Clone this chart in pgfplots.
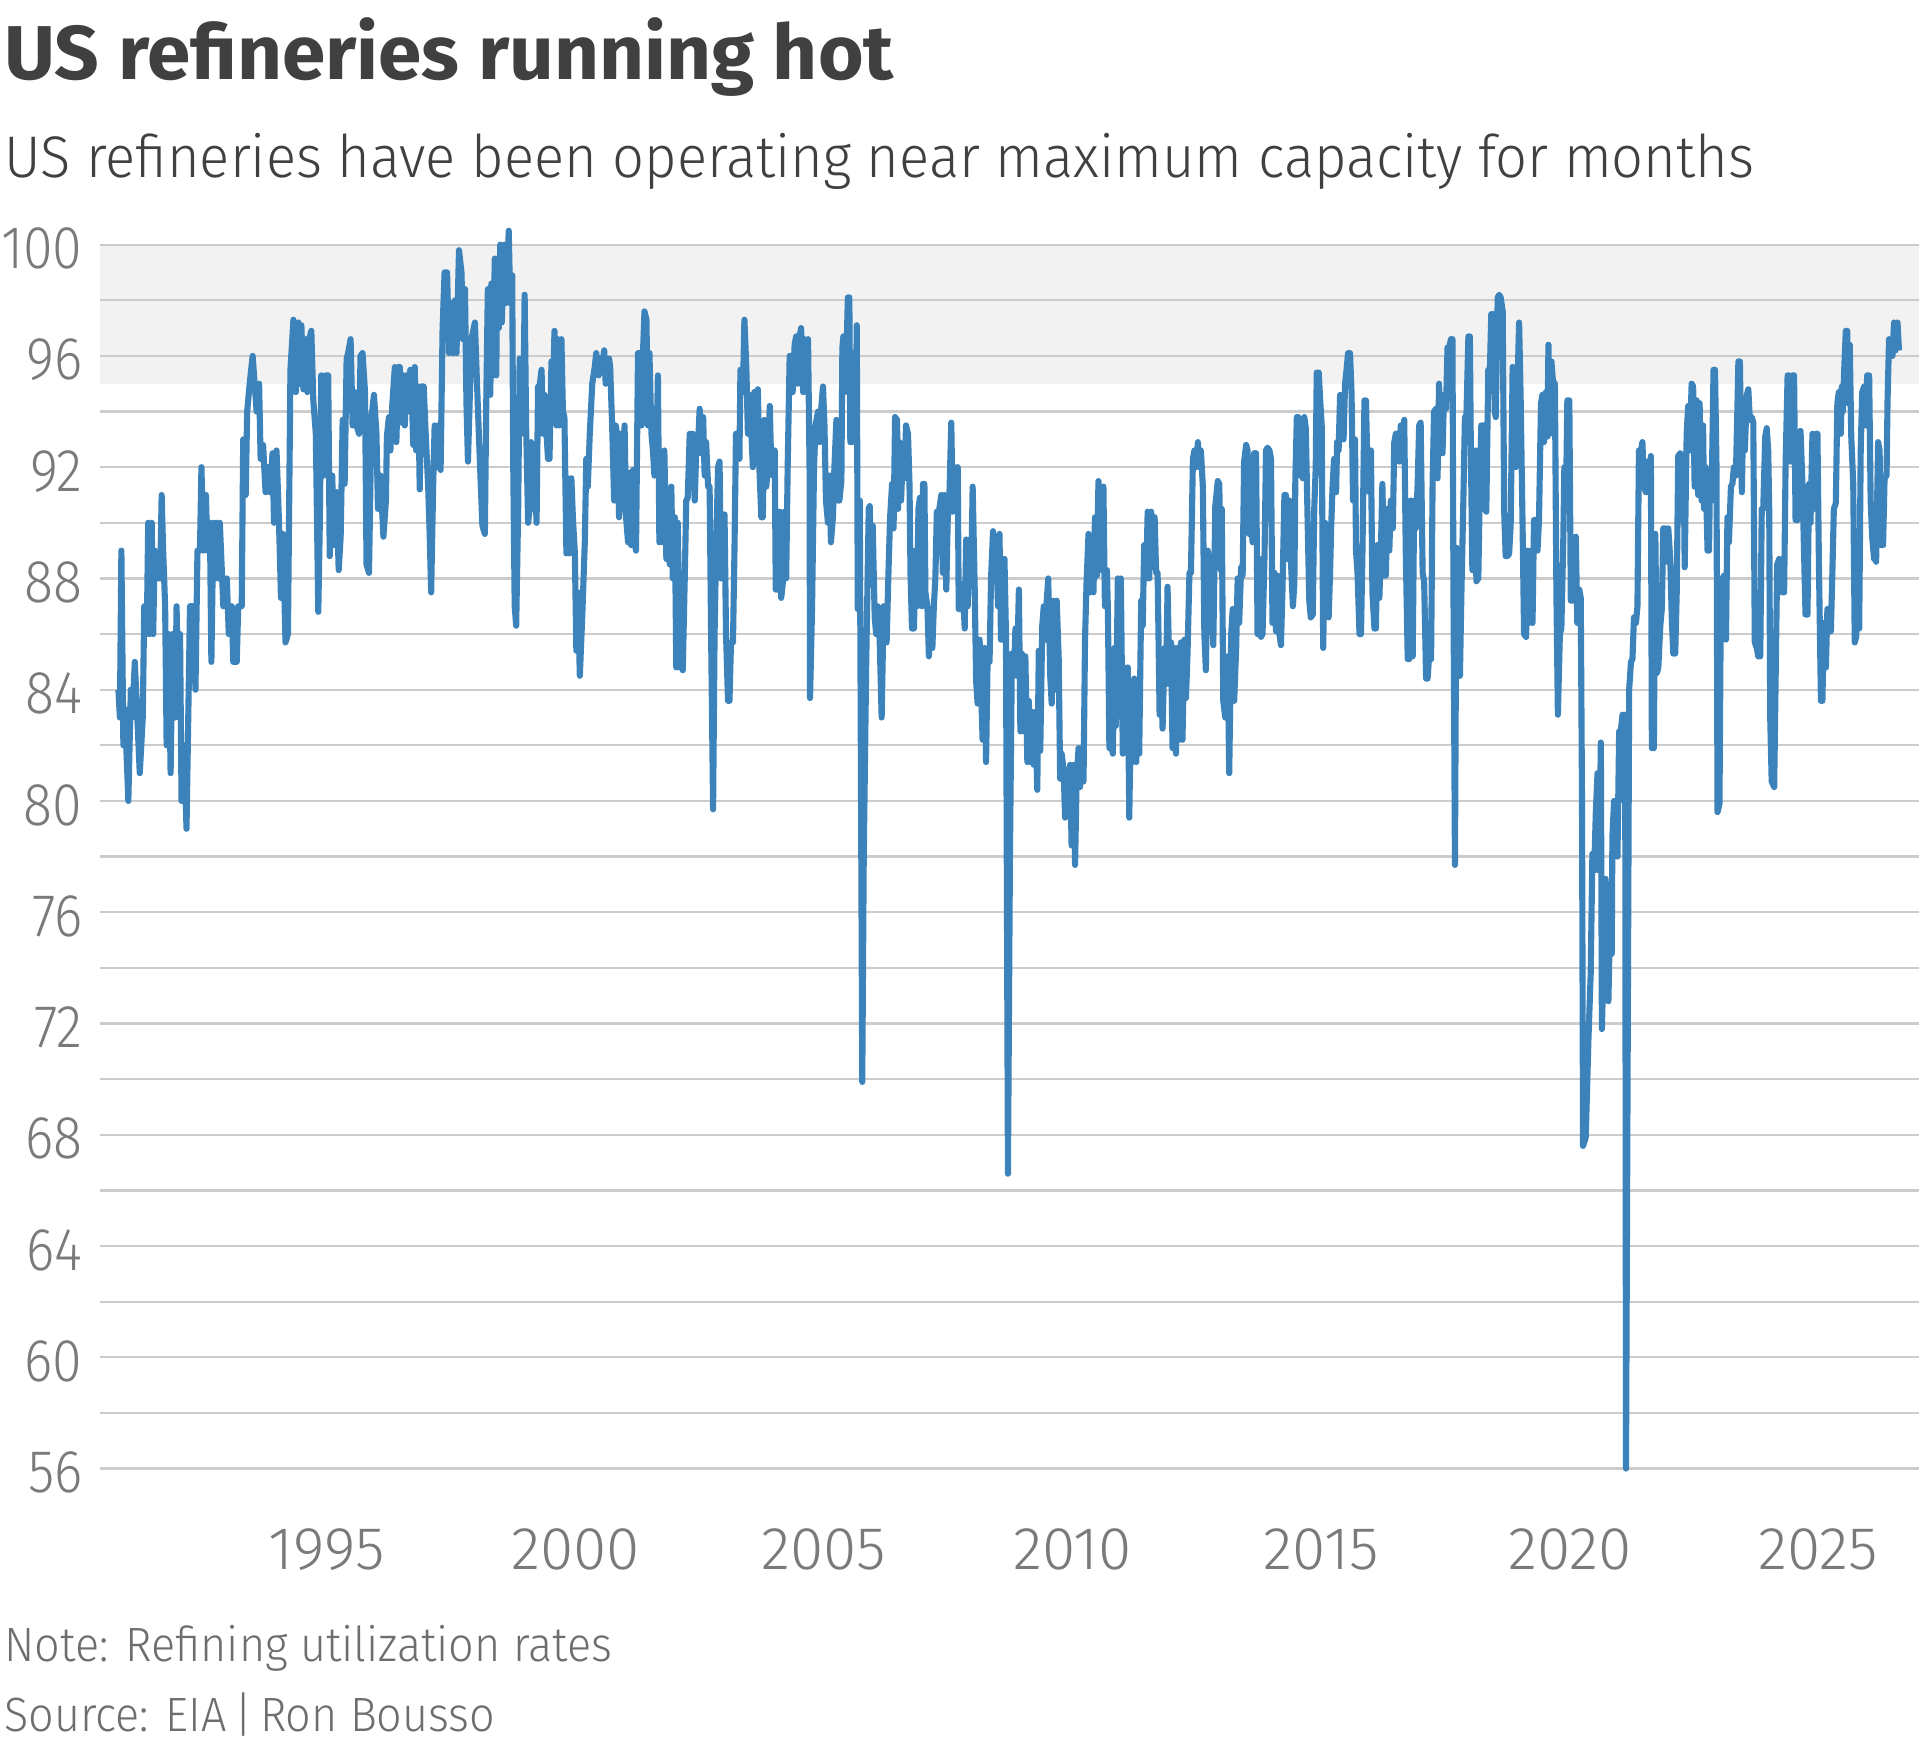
\documentclass[border=0pt]{standalone}
\usepackage{fontspec}
\usepackage{graphicx}
\usepackage{pgfplots}
\usepackage{pgfplotstable}
\pgfplotsset{compat=1.18}
\setmainfont{Fira Sans}[UprightFont={* Light}, BoldFont={* Bold}]
\newfontfamily\ytickfont{Fira Sans}[UprightFont={* Light}, FakeStretch=0.89]
\newfontfamily\xtickfont{Fira Sans}[UprightFont={* Light}, FakeStretch=1.0]
\newfontfamily\titlefont{Fira Sans}[UprightFont={* Bold}]
\definecolor{lineblue}{HTML}{3B83BA}
\definecolor{gridgray}{HTML}{CCCCCC}
\definecolor{bandgray}{HTML}{F2F2F2}
\definecolor{titlegray}{HTML}{404040}
\definecolor{tickgray}{HTML}{7A7A7A}
\definecolor{notegray}{HTML}{6E6E6E}

\pgfplotstableread{
year util
1990.81 84.0
1990.84 83.0
1990.87 89.0
1990.91 82.0
1990.94 83.3
1991.01 80.0
1991.06 84.0
1991.09 83.0
1991.14 85.0
1991.19 83.0
1991.24 81.0
1991.30 83.0
1991.33 87.0
1991.38 86.0
1991.41 90.0
1991.44 86.0
1991.48 90.0
1991.51 86.0
1991.54 89.0
1991.59 88.0
1991.65 88.0
1991.68 91.0
1991.71 89.0
1991.75 87.0
1991.78 82.0
1991.82 86.0
1991.86 81.0
1991.90 86.0
1991.95 83.0
1991.98 87.0
1992.02 83.0
1992.05 86.0
1992.08 80.0
1992.13 82.0
1992.18 79.0
1992.25 87.0
1992.31 87.0
1992.36 84.0
1992.40 89.0
1992.45 89.0
1992.48 92.0
1992.52 89.0
1992.57 91.0
1992.60 89.0
1992.65 90.0
1992.68 85.0
1992.72 90.0
1992.75 88.0
1992.78 90.0
1992.82 88.0
1992.85 90.0
1992.92 87.0
1992.99 88.0
1993.03 86.0
1993.09 87.0
1993.12 85.0
1993.19 85.0
1993.22 87.0
1993.29 87.0
1993.32 93.0
1993.37 91.0
1993.40 94.0
1993.45 95.0
1993.51 96.0
1993.55 95.0
1993.59 94.0
1993.64 95.0
1993.67 92.3
1993.72 92.8
1993.77 91.1
1993.82 92.0
1993.86 91.1
1993.91 92.5
1993.94 90.0
1993.99 92.6
1994.04 90.0
1994.08 87.3
1994.12 89.6
1994.17 85.7
1994.22 86.0
1994.27 95.5
1994.33 97.3
1994.38 94.7
1994.43 97.2
1994.46 95.0
1994.49 97.1
1994.53 94.8
1994.58 96.6
1994.61 94.7
1994.66 96.7
1994.69 96.9
1994.73 94.4
1994.78 93.2
1994.83 86.8
1994.86 89.9
1994.89 95.3
1994.94 91.7
1994.98 95.3
1995.03 95.3
1995.06 88.8
1995.11 91.7
1995.15 89.2
1995.20 91.1
1995.24 88.3
1995.28 89.5
1995.32 93.7
1995.36 91.4
1995.40 95.9
1995.43 96.1
1995.48 96.6
1995.52 93.5
1995.56 94.7
1995.60 93.5
1995.65 93.2
1995.68 96.0
1995.72 96.1
1995.77 94.7
1995.80 88.5
1995.85 88.2
1995.90 93.8
1995.95 94.6
1996.00 93.2
1996.03 90.5
1996.08 91.7
1996.14 89.5
1996.19 90.8
1996.21 93.1
1996.25 93.8
1996.28 92.6
1996.32 94.3
1996.37 95.6
1996.40 92.9
1996.44 95.6
1996.47 95.6
1996.50 93.6
1996.54 95.3
1996.57 93.5
1996.60 95.3
1996.66 94.0
1996.68 95.5
1996.72 94.0
1996.74 92.8
1996.77 95.6
1996.80 92.6
1996.84 94.9
1996.87 91.2
1996.90 94.9
1996.95 94.9
1996.99 93.2
1997.04 91.3
1997.07 89.6
1997.10 87.5
1997.14 91.3
1997.17 93.5
1997.21 92.0
1997.24 93.5
1997.29 91.9
1997.33 97.0
1997.37 99.0
1997.42 99.0
1997.46 96.1
1997.49 97.9
1997.54 96.1
1997.58 98.0
1997.61 96.1
1997.66 99.8
1997.71 99.0
1997.74 96.6
1997.78 98.4
1997.81 94.3
1997.84 92.2
1997.91 96.6
1997.98 97.2
1998.02 95.1
1998.08 92.2
1998.13 89.9
1998.18 89.6
1998.21 94.6
1998.24 98.4
1998.29 94.6
1998.31 98.6
1998.34 95.3
1998.38 99.5
1998.41 95.3
1998.43 99.5
1998.46 97.0
1998.49 100.0
1998.52 97.2
1998.57 100.0
1998.60 97.9
1998.63 98.9
1998.66 100.5
1998.69 97.9
1998.73 98.9
1998.75 92.2
1998.78 87.0
1998.81 86.3
1998.85 90.5
1998.88 95.9
1998.91 93.2
1998.95 93.5
1998.98 98.2
1999.01 93.5
1999.05 90.0
1999.08 90.5
1999.11 92.9
1999.15 90.5
1999.18 92.0
1999.22 90.0
1999.25 94.9
1999.28 94.9
1999.32 95.5
1999.35 93.2
1999.38 94.6
1999.42 93.2
1999.45 92.3
1999.48 92.3
1999.52 95.8
1999.55 94.7
1999.58 96.9
1999.62 93.5
1999.65 96.6
1999.68 93.5
1999.72 96.6
1999.75 94.0
1999.78 93.8
1999.82 88.9
1999.85 91.6
1999.88 88.9
1999.92 91.6
1999.95 90.2
1999.99 88.9
2000.02 85.4
2000.05 87.5
2000.09 84.5
2000.14 86.7
2000.19 89.3
2000.22 92.3
2000.25 91.3
2000.29 93.2
2000.34 95.0
2000.39 95.6
2000.42 96.1
2000.47 95.3
2000.50 95.9
2000.53 95.5
2000.58 96.2
2000.61 95.0
2000.64 95.9
2000.68 95.9
2000.70 95.6
2000.74 93.5
2000.78 90.8
2000.81 93.5
2000.84 93.2
2000.88 90.2
2000.92 93.2
2000.96 90.5
2000.99 93.5
2001.02 90.2
2001.06 89.3
2001.09 91.8
2001.12 89.2
2001.16 91.9
2001.19 89.3
2001.22 89.0
2001.26 96.1
2001.29 96.1
2001.33 93.5
2001.36 96.1
2001.39 97.6
2001.43 97.3
2001.46 93.5
2001.49 96.1
2001.53 93.2
2001.56 92.6
2001.59 91.7
2001.63 92.5
2001.66 95.3
2001.69 89.3
2001.73 91.4
2001.76 89.3
2001.79 92.6
2001.83 88.7
2001.86 90.5
2001.90 88.5
2001.93 91.3
2001.96 88.0
2002.00 90.2
2002.03 84.8
2002.06 90.0
2002.10 84.8
2002.13 87.6
2002.16 84.7
2002.20 88.0
2002.23 90.8
2002.26 90.9
2002.30 93.2
2002.33 92.6
2002.36 93.2
2002.40 90.8
2002.43 92.5
2002.46 92.5
2002.50 94.1
2002.53 92.5
2002.57 93.8
2002.60 91.7
2002.63 92.9
2002.67 91.3
2002.70 91.3
2002.73 86.0
2002.77 79.7
2002.80 86.0
2002.83 89.0
2002.87 92.0
2002.90 92.2
2002.93 88.0
2002.97 88.0
2003.00 90.3
2003.03 86.0
2003.07 83.6
2003.10 83.6
2003.13 85.7
2003.17 85.7
2003.20 89.0
2003.23 93.2
2003.27 93.2
2003.30 92.3
2003.32 95.5
2003.37 94.7
2003.40 97.3
2003.44 95.5
2003.47 93.2
2003.50 94.6
2003.54 93.2
2003.57 92.0
2003.60 94.7
2003.64 94.5
2003.67 94.8
2003.70 92.0
2003.74 90.2
2003.77 90.2
2003.80 93.7
2003.84 91.3
2003.87 92.0
2003.91 94.2
2003.94 92.0
2003.97 91.7
2004.01 92.6
2004.03 87.6
2004.07 87.6
2004.11 90.4
2004.14 87.3
2004.17 87.8
2004.21 90.4
2004.24 88.0
2004.27 92.0
2004.31 96.0
2004.34 96.0
2004.37 94.7
2004.41 96.4
2004.44 96.7
2004.47 95.0
2004.51 96.7
2004.54 97.0
2004.58 94.7
2004.61 96.6
2004.64 94.7
2004.68 96.6
2004.71 92.0
2004.72 83.7
2004.76 86.9
2004.80 92.0
2004.83 93.5
2004.88 94.0
2004.91 92.9
2004.94 94.0
2004.98 94.9
2005.01 93.5
2005.04 90.8
2005.08 90.0
2005.11 91.7
2005.14 89.3
2005.18 90.2
2005.21 92.0
2005.25 93.7
2005.28 90.8
2005.31 90.8
2005.35 91.5
2005.37 96.3
2005.39 96.7
2005.42 94.7
2005.45 95.8
2005.48 98.1
2005.51 98.1
2005.53 92.9
2005.57 92.9
2005.60 96.1
2005.63 92.9
2005.66 97.1
2005.68 86.9
2005.72 90.8
2005.77 69.9
2005.80 78.0
2005.85 85.0
2005.90 90.5
2005.92 90.6
2005.95 88.0
2005.98 89.9
2006.02 86.6
2006.05 86.0
2006.08 87.0
2006.12 85.8
2006.16 83.0
2006.20 87.0
2006.23 85.7
2006.26 85.7
2006.30 88.4
2006.33 90.2
2006.37 91.4
2006.40 89.8
2006.43 93.8
2006.47 93.7
2006.49 90.5
2006.52 92.9
2006.55 90.8
2006.59 92.6
2006.62 91.6
2006.65 93.5
2006.69 93.2
2006.72 91.4
2006.74 88.2
2006.77 86.2
2006.81 86.2
2006.84 89.0
2006.87 87.0
2006.90 90.5
2006.93 90.9
2006.97 87.0
2006.99 91.4
2007.02 91.4
2007.04 87.5
2007.08 87.0
2007.11 85.2
2007.14 86.9
2007.18 85.5
2007.21 87.0
2007.24 88.0
2007.27 90.4
2007.30 88.9
2007.32 90.5
2007.36 91.0
2007.39 88.2
2007.42 91.0
2007.46 87.6
2007.49 90.2
2007.52 90.8
2007.56 93.6
2007.59 90.4
2007.63 92.0
2007.66 90.5
2007.69 92.0
2007.71 86.9
2007.76 86.9
2007.79 87.8
2007.83 86.2
2007.86 89.4
2007.89 87.0
2007.93 89.4
2007.96 87.8
2007.99 91.3
2008.03 87.8
2008.06 84.3
2008.09 83.5
2008.13 85.8
2008.16 84.0
2008.19 82.2
2008.23 85.5
2008.26 81.4
2008.29 85.0
2008.33 85.0
2008.36 88.0
2008.40 89.7
2008.43 88.5
2008.46 89.5
2008.50 87.0
2008.53 89.6
2008.56 85.8
2008.60 85.8
2008.63 88.7
2008.66 86.0
2008.70 66.6
2008.74 78.0
2008.78 85.3
2008.82 84.5
2008.85 86.2
2008.88 84.5
2008.92 87.6
2008.95 82.5
2008.98 85.3
2009.02 82.5
2009.05 85.2
2009.09 81.4
2009.12 83.6
2009.15 81.4
2009.19 83.2
2009.22 81.3
2009.25 83.2
2009.29 80.4
2009.32 85.4
2009.35 81.8
2009.39 86.3
2009.42 87.0
2009.45 85.8
2009.48 87.2
2009.51 88.0
2009.55 84.5
2009.58 83.5
2009.61 87.2
2009.65 84.0
2009.68 87.2
2009.72 85.2
2009.75 80.8
2009.78 81.7
2009.82 81.1
2009.85 79.4
2009.88 81.1
2009.92 79.6
2009.95 81.3
2009.98 78.4
2010.02 81.3
2010.05 77.7
2010.08 80.7
2010.12 81.9
2010.15 80.5
2010.18 81.9
2010.22 80.7
2010.25 85.8
2010.28 87.8
2010.32 89.6
2010.35 87.5
2010.39 89.4
2010.42 87.5
2010.45 90.2
2010.49 88.1
2010.52 91.5
2010.55 89.6
2010.59 88.3
2010.62 91.3
2010.65 87.0
2010.69 88.3
2010.71 86.9
2010.74 81.9
2010.77 82.1
2010.81 81.7
2010.84 85.5
2010.87 82.7
2010.91 88.0
2010.94 84.5
2010.97 88.0
2011.01 81.7
2011.04 84.8
2011.08 81.9
2011.11 84.8
2011.14 79.4
2011.18 84.2
2011.21 81.4
2011.24 84.4
2011.28 81.4
2011.31 84.3
2011.34 81.7
2011.38 87.2
2011.41 86.3
2011.44 89.2
2011.48 88.0
2011.51 90.4
2011.54 88.0
2011.58 90.4
2011.61 88.4
2011.65 90.2
2011.68 88.2
2011.71 88.2
2011.75 83.1
2011.78 84.5
2011.81 82.6
2011.85 85.5
2011.88 84.2
2011.91 87.7
2011.95 84.2
2011.98 85.7
2012.01 81.9
2012.05 85.5
2012.08 81.7
2012.11 85.5
2012.15 82.2
2012.18 85.7
2012.21 82.2
2012.25 85.8
2012.28 83.7
2012.31 85.2
2012.35 88.2
2012.38 88.2
2012.42 92.3
2012.45 92.6
2012.48 92.0
2012.52 92.9
2012.55 92.0
2012.58 92.6
2012.62 91.3
2012.65 86.0
2012.68 84.7
2012.72 89.0
2012.78 88.0
2012.83 85.6
2012.87 90.6
2012.92 91.5
2012.95 91.4
2012.98 88.3
2013.00 90.5
2013.03 83.6
2013.07 83.0
2013.12 85.2
2013.15 81.0
2013.19 86.0
2013.22 86.9
2013.25 83.6
2013.29 85.5
2013.32 88.0
2013.35 86.4
2013.39 88.4
2013.42 88.1
2013.45 92.2
2013.49 92.8
2013.52 92.6
2013.55 89.6
2013.59 90.2
2013.62 89.3
2013.65 92.5
2013.69 92.5
2013.72 86.0
2013.76 88.7
2013.79 85.9
2013.82 86.0
2013.86 88.8
2013.89 92.6
2013.92 92.7
2013.96 92.6
2013.99 92.3
2014.02 86.4
2014.06 88.2
2014.09 86.1
2014.12 88.1
2014.16 86.0
2014.19 85.6
2014.22 87.5
2014.26 91.0
2014.29 91.0
2014.32 88.7
2014.36 90.8
2014.39 88.7
2014.43 87.0
2014.46 87.8
2014.48 91.6
2014.51 93.8
2014.54 93.8
2014.57 91.7
2014.59 93.5
2014.63 91.6
2014.66 93.8
2014.69 93.4
2014.73 89.8
2014.76 87.2
2014.79 86.6
2014.83 86.7
2014.86 90.5
2014.89 92.0
2014.91 95.4
2014.95 95.4
2014.98 94.4
2015.01 93.5
2015.04 85.5
2015.08 90.0
2015.11 88.5
2015.15 86.6
2015.18 88.3
2015.20 89.8
2015.23 91.4
2015.26 92.3
2015.30 91.1
2015.32 92.9
2015.35 92.6
2015.38 94.6
2015.42 94.1
2015.45 93.0
2015.48 95.0
2015.51 95.5
2015.54 96.1
2015.58 96.1
2015.61 94.7
2015.64 90.8
2015.68 93.0
2015.70 89.0
2015.73 88.2
2015.77 86.0
2015.80 86.0
2015.83 89.0
2015.87 94.4
2015.90 94.4
2015.93 92.0
2015.97 91.1
2016.00 92.6
2016.03 87.5
2016.07 86.2
2016.10 86.2
2016.13 89.2
2016.17 87.3
2016.20 89.0
2016.23 91.4
2016.27 88.1
2016.30 88.1
2016.33 90.5
2016.37 89.0
2016.40 90.8
2016.44 89.8
2016.47 92.9
2016.50 93.2
2016.54 93.2
2016.57 92.2
2016.60 93.5
2016.64 92.2
2016.67 93.7
2016.70 89.0
2016.74 85.1
2016.77 85.1
2016.80 90.8
2016.84 85.2
2016.87 90.8
2016.90 89.8
2016.94 91.4
2016.97 93.5
2017.00 93.6
2017.04 88.2
2017.07 87.9
2017.11 84.4
2017.14 84.4
2017.17 85.2
2017.21 85.1
2017.24 91.4
2017.27 94.0
2017.31 94.1
2017.34 91.6
2017.37 95.0
2017.41 92.6
2017.44 92.5
2017.47 94.6
2017.51 94.1
2017.54 96.3
2017.57 96.3
2017.61 96.6
2017.64 96.6
2017.66 87.5
2017.69 77.7
2017.72 89.1
2017.75 84.5
2017.79 84.5
2017.82 87.5
2017.86 90.9
2017.89 93.8
2017.92 93.8
2017.96 96.7
2017.99 96.7
2018.01 92.5
2018.04 88.3
2018.08 88.3
2018.10 92.6
2018.12 87.9
2018.16 88.0
2018.19 91.3
2018.22 93.5
2018.26 93.5
2018.29 90.5
2018.32 90.4
2018.36 95.5
2018.39 95.3
2018.42 97.5
2018.46 97.5
2018.49 94.0
2018.51 93.8
2018.55 98.1
2018.58 98.2
2018.61 98.1
2018.65 97.6
2018.68 90.4
2018.71 88.8
2018.75 88.8
2018.78 88.9
2018.81 89.9
2018.85 95.6
2018.88 95.5
2018.91 92.0
2018.95 95.1
2018.98 97.2
2019.01 94.6
2019.05 89.9
2019.08 86.0
2019.12 85.9
2019.15 89.0
2019.18 86.4
2019.22 89.0
2019.25 86.4
2019.28 90.1
2019.32 90.1
2019.35 89.0
2019.38 90.1
2019.42 94.3
2019.45 94.6
2019.48 92.9
2019.52 94.7
2019.55 93.1
2019.57 96.4
2019.60 93.2
2019.63 95.8
2019.66 95.1
2019.70 95.0
2019.73 87.5
2019.76 83.1
2019.80 86.0
2019.83 86.2
2019.87 89.5
2019.89 92.0
2019.92 90.5
2019.95 94.4
2019.99 94.4
2020.02 87.2
2020.05 87.2
2020.09 89.3
2020.12 89.5
2020.15 86.4
2020.19 87.6
2020.22 87.3
2020.245 80.0
2020.266 67.6
2020.32 67.9
2020.374 71.4
2020.42 73.8
2020.454 78.1
2020.49 77.5
2020.523 79.6
2020.557 81.0
2020.59 77.5
2020.624 82.1
2020.645 71.8
2020.72 77.2
2020.776 72.8
2020.823 77.0
2020.843 74.5
2020.856 78.7
2020.89 80.0
2020.925 79.9
2020.958 78.0
2020.992 82.5
2021.025 82.5
2021.059 83.1
2021.09 80.0
2021.113 83.1
2021.13 56.0
2021.193 84.0
2021.23 85.0
2021.26 85.1
2021.29 86.6
2021.33 86.4
2021.36 87.0
2021.39 92.6
2021.43 92.6
2021.46 92.9
2021.49 91.3
2021.53 91.1
2021.56 92.2
2021.59 91.1
2021.63 92.4
2021.65 81.9
2021.69 81.9
2021.72 89.6
2021.75 84.6
2021.78 84.8
2021.82 86.3
2021.85 86.9
2021.88 89.8
2021.92 89.8
2021.95 88.6
2021.98 89.8
2022.02 88.7
2022.05 86.6
2022.08 85.3
2022.12 85.3
2022.15 87.5
2022.18 92.4
2022.22 92.5
2022.25 90.1
2022.29 92.3
2022.31 88.4
2022.35 93.2
2022.38 94.2
2022.41 92.6
2022.45 95.0
2022.48 94.9
2022.51 91.3
2022.55 94.4
2022.58 91.0
2022.61 94.3
2022.65 90.8
2022.68 93.5
2022.70 90.5
2022.73 92.0
2022.77 89.0
2022.80 89.0
2022.82 91.9
2022.85 90.8
2022.89 95.5
2022.92 95.5
2022.95 92.0
2022.97 79.6
2023.01 79.9
2023.04 88.0
2023.07 85.8
2023.10 88.1
2023.14 85.8
2023.17 90.2
2023.20 89.3
2023.24 91.3
2023.27 91.4
2023.30 92.0
2023.34 91.7
2023.37 94.1
2023.39 95.8
2023.42 95.8
2023.46 91.1
2023.49 94.3
2023.52 92.6
2023.56 94.6
2023.59 94.8
2023.62 93.7
2023.66 93.8
2023.69 93.6
2023.72 85.7
2023.76 85.5
2023.79 85.2
2023.83 85.2
2023.86 90.5
2023.89 90.5
2023.93 93.1
2023.96 93.4
2023.99 92.6
2024.01 90.5
2024.03 83.0
2024.06 80.7
2024.11 80.5
2024.14 84.5
2024.17 88.5
2024.21 88.7
2024.24 88.1
2024.27 87.5
2024.31 87.5
2024.34 92.2
2024.38 95.3
2024.41 95.3
2024.44 92.2
2024.48 95.3
2024.51 95.3
2024.54 90.1
2024.58 90.1
2024.61 93.2
2024.64 93.3
2024.68 91.3
2024.71 89.0
2024.74 86.7
2024.78 86.7
2024.81 91.4
2024.84 90.0
2024.88 93.2
2024.91 90.5
2024.95 93.2
2024.98 93.2
2025.01 88.5
2025.05 83.6
2025.08 83.6
2025.11 86.4
2025.15 84.8
2025.18 86.9
2025.21 86.1
2025.25 86.1
2025.28 88.2
2025.31 90.5
2025.35 90.7
2025.38 94.3
2025.41 94.7
2025.45 93.2
2025.47 94.9
2025.49 94.0
2025.52 95.6
2025.55 96.9
2025.58 96.9
2025.60 94.3
2025.63 96.4
2025.66 93.1
2025.70 91.4
2025.73 85.7
2025.76 85.9
2025.80 89.0
2025.82 86.2
2025.85 92.6
2025.88 94.7
2025.92 94.9
2025.95 93.5
2025.98 95.3
2026.02 95.3
2026.05 90.8
2026.08 89.5
2026.12 88.7
2026.14 89.3
2026.16 88.6
2026.20 92.9
2026.23 92.6
2026.26 89.2
2026.30 89.2
2026.33 91.6
2026.37 91.7
2026.39 94.4
2026.42 96.6
2026.45 96.0
2026.49 96.0
2026.52 97.2
2026.55 96.2
2026.59 97.2
2026.62 96.2
}\refdata

\begin{document}
\begin{tikzpicture}[x=1pt,y=1pt]
\path (0,0) rectangle (470.4,428.1);
% title and subtitle
\node[anchor=base west, inner sep=0pt, text=titlegray] at (0.9,408.6)
  {\resizebox{218pt}{\height}{\titlefont\fontsize{18.7}{20}\selectfont US refineries running hot}};
\node[anchor=base west, inner sep=0pt, text=titlegray] at (0.9,384.6)
  {\resizebox{429pt}{\height}{\fontsize{14.4}{16}\selectfont US refineries have been operating near maximum capacity for months}};
% notes
\node[anchor=base west, inner sep=0pt, text=notegray] at (0.9,20.7)
  {\resizebox{149pt}{\height}{\fontsize{11.8}{13}\selectfont Note: Refining utilization rates}};
\node[anchor=base west, inner sep=0pt, text=notegray] at (0.9,3.6)
  {\resizebox{120.3pt}{\height}{\fontsize{11.8}{13}\selectfont Source: EIA\,|\,Ron Bousso}};
\begin{axis}[
  at={(24.6pt,54.45pt)}, anchor=south west,
  scale only axis, width=445.8pt, height=320.5pt,
  xmin=1990.447, xmax=2027.02, ymin=54, ymax=101,
  set layers,
  axis line style={draw=none},
  major tick length=0pt, minor tick length=0pt,
  xtick={1995,2000,2005,2010,2015,2020,2025},
  xticklabels={1995,2000,2005,2010,2015,2020,2025},
  ytick={56,60,64,68,72,76,80,84,88,92,96,100},
  yticklabels={56,60,64,68,72,76,80,84,88,92,96,100},
  minor ytick={58,62,66,70,74,78,82,86,90,94,98},
  ymajorgrids=true, yminorgrids=true,
  major grid style={draw=gridgray, line width=0.55pt},
  minor grid style={draw=gridgray, line width=0.55pt},
  yticklabel style={font=\ytickfont\fontsize{14.8}{15}\selectfont, text=tickgray, anchor=east, inner sep=0pt, xshift=-4.2pt, yshift=-1pt},
  xticklabel style={font=\xtickfont\fontsize{14.8}{15}\selectfont, text=tickgray, anchor=north, inner sep=0pt, yshift=-0.8pt},
  clip=false,
]
\addplot[fill=bandgray, draw=none, on layer=axis background]
  coordinates {(1990.447,95) (2027.02,95) (2027.02,100) (1990.447,100)} -- cycle;
\addplot[color=lineblue, line width=1.5pt, line join=round, mark=none]
  table[x=year, y=util] {\refdata};
\end{axis}
\end{tikzpicture}
\end{document}
